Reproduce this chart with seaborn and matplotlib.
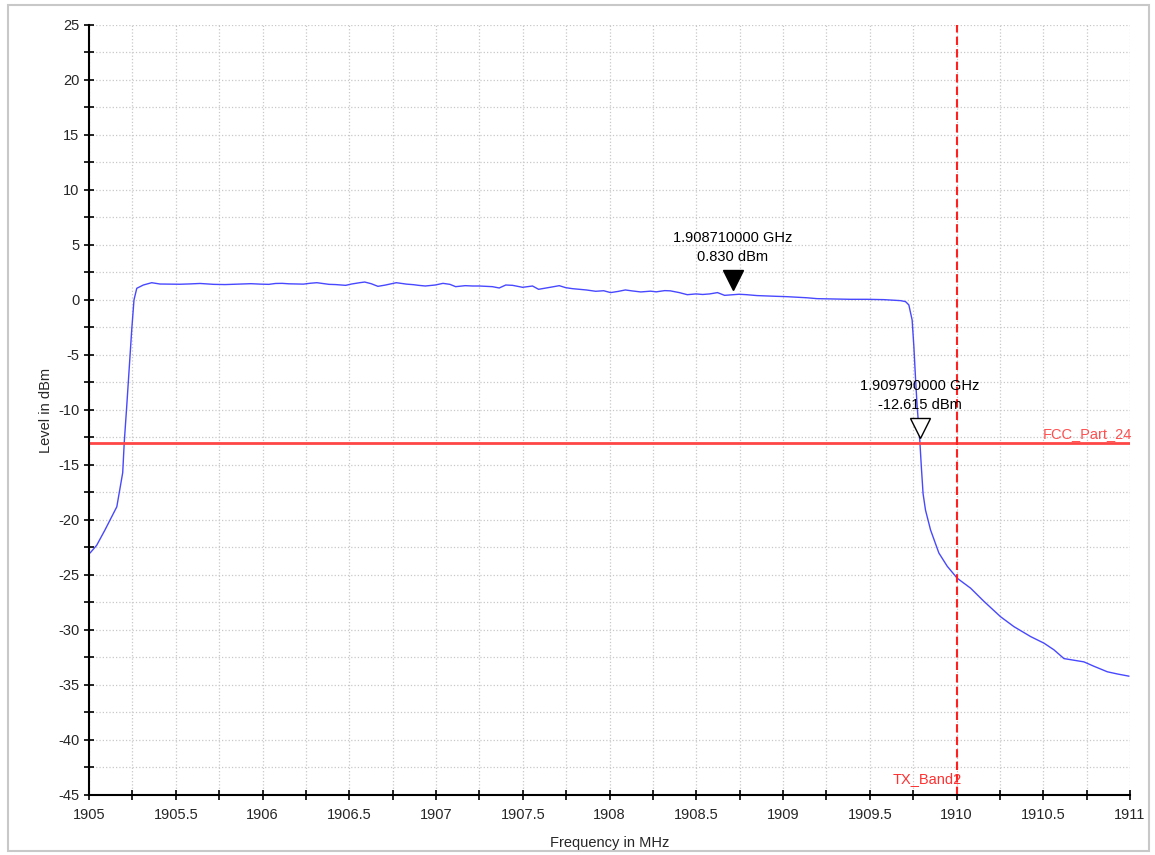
import numpy as np
import pandas as pd
import seaborn as sns
import matplotlib.pyplot as plt
from matplotlib.patches import Rectangle
from matplotlib.ticker import MultipleLocator
from matplotlib.transforms import offset_copy

# trace (MHz, dBm)
freq = [1905.006, 1905.044, 1905.092, 1905.131, 1905.160, 1905.179, 1905.194, 1905.203,
        1905.217, 1905.232, 1905.246, 1905.259, 1905.275, 1905.313, 1905.361, 1905.409,
        1905.524, 1905.583, 1905.640, 1905.718, 1905.784, 1905.883, 1905.933, 1905.988,
        1906.036, 1906.075, 1906.113, 1906.151, 1906.209, 1906.235, 1906.275, 1906.313,
        1906.383, 1906.420, 1906.479, 1906.513, 1906.560, 1906.589, 1906.626, 1906.665,
        1906.706, 1906.771, 1906.830, 1906.870, 1906.899, 1906.938, 1906.995, 1907.040,
        1907.080, 1907.113, 1907.168, 1907.211, 1907.249, 1907.325, 1907.364, 1907.402,
        1907.441, 1907.499, 1907.556, 1907.591, 1907.636, 1907.668, 1907.710, 1907.747,
        1907.785, 1907.837, 1907.866, 1907.895, 1907.920, 1907.966, 1908.006, 1908.050,
        1908.091, 1908.132, 1908.180, 1908.236, 1908.269, 1908.318, 1908.350, 1908.402,
        1908.448, 1908.498, 1908.537, 1908.577, 1908.622, 1908.663, 1908.710, 1908.747,
        1908.790, 1908.849, 1908.907, 1908.965, 1909.022, 1909.080, 1909.138, 1909.196,
        1909.253, 1909.311, 1909.388, 1909.485, 1909.581, 1909.677, 1909.706, 1909.725,
        1909.744, 1909.754, 1909.764, 1909.773, 1909.788, 1909.797, 1909.807, 1909.821,
        1909.850, 1909.898, 1909.946, 1910.004, 1910.081, 1910.158, 1910.254, 1910.331,
        1910.427, 1910.504, 1910.561, 1910.619, 1910.696, 1910.734, 1910.792, 1910.869,
        1910.927, 1910.994]
level = [-23.0, -22.3, -20.9, -19.7, -18.8, -17.1, -15.7, -12.9,
         -9.7, -6.1, -2.7, 0.0, 1.06, 1.36, 1.57, 1.45,
         1.43, 1.46, 1.50, 1.42, 1.40, 1.45, 1.48, 1.44,
         1.42, 1.50, 1.51, 1.47, 1.45, 1.44, 1.52, 1.57,
         1.42, 1.40, 1.33, 1.45, 1.57, 1.63, 1.48, 1.24,
         1.35, 1.57, 1.44, 1.39, 1.33, 1.27, 1.36, 1.51,
         1.42, 1.21, 1.30, 1.27, 1.27, 1.21, 1.09, 1.36,
         1.33, 1.15, 1.27, 0.97, 1.09, 1.18, 1.30, 1.12,
         1.03, 0.95, 0.91, 0.85, 0.79, 0.84, 0.67, 0.78,
         0.91, 0.82, 0.73, 0.80, 0.74, 0.85, 0.83, 0.67,
         0.48, 0.55, 0.50, 0.55, 0.67, 0.42, 0.48, 0.52,
         0.48, 0.40, 0.36, 0.33, 0.30, 0.25, 0.20, 0.12,
         0.10, 0.08, 0.06, 0.06, 0.03, -0.06, -0.15, -0.45,
         -1.82, -4.24, -7.27, -9.7, -12.73, -15.15, -17.6, -19.1,
         -20.9, -23.0, -24.2, -25.3, -26.2, -27.4, -28.8, -29.7,
         -30.6, -31.2, -31.8, -32.6, -32.8, -32.9, -33.3, -33.8,
         -34.0, -34.2]

limit_level = -13.0
limit_name = "FCC_Part_24"
band_edge = 1910.0
band_name = "TX_Band2"
marker_freq = [1908.71, 1909.79]
marker_level = [0.830, -12.615]
marker_text = ["1.908710000 GHz\n0.830 dBm", "1.909790000 GHz\n-12.615 dBm"]
marker_filled = [True, False]

sns.set_theme(style="white")
plt.rcParams['font.family'] = ['Liberation Sans', 'DejaVu Sans']
plt.rcParams['axes.unicode_minus'] = False

df = pd.DataFrame({"Frequency": freq, "Level": level})

fig = plt.figure(figsize=(11.55, 8.55), dpi=100)
fig.patches.append(Rectangle((0.007, 0.005), 0.988, 0.989, transform=fig.transFigure,
                             fill=False, edgecolor="#c8c8c8", linewidth=1.5))
ax = fig.add_axes([0.0771, 0.0702, 0.9013, 0.9006])

sns.lineplot(data=df, x="Frequency", y="Level", ax=ax, color="#4848ff", linewidth=1.0)

ax.axhline(limit_level, color="#ff4646", linewidth=2.0)
ax.text(1911.01, limit_level + 0.2, limit_name, color="#ff5050", fontsize=10.5,
        ha="right", va="bottom")
ax.axvline(band_edge, color="#ff2020", linewidth=1.5, linestyle=(0, (4, 2)))
ax.text(band_edge + 0.03, -44.2, band_name, color="#ff3030", fontsize=10.5,
        ha="right", va="bottom")

for f, l, t, filled in zip(marker_freq, marker_level, marker_text, marker_filled):
    tr = offset_copy(ax.transData, fig=fig, x=0, y=7.5, units="points")
    ax.plot([f], [l], marker="v", markersize=15, transform=tr,
            markerfacecolor="black" if filled else "white",
            markeredgecolor="black", markeredgewidth=1.0, linestyle="none")
    ax.text(f, l + 2.4, t, ha="center", va="bottom", fontsize=10.5,
            linespacing=1.45, color="black")

ax.set_xlim(1905, 1911)
ax.set_ylim(-45, 25)
ax.xaxis.set_major_locator(MultipleLocator(0.5))
ax.xaxis.set_minor_locator(MultipleLocator(0.25))
ax.yaxis.set_major_locator(MultipleLocator(5))
ax.yaxis.set_minor_locator(MultipleLocator(2.5))
ax.xaxis.set_major_formatter(plt.FuncFormatter(lambda v, p: f"{v:g}"))
ax.grid(True, which="both", color="#c8c8c8", linestyle=":", linewidth=0.9)
ax.tick_params(which="both", direction="inout", length=7, width=1.2, color="black",
               labelsize=10.5, bottom=True, left=True)
ax.tick_params(axis="x", which="major", pad=6)
for s in ["top", "right"]:
    ax.spines[s].set_visible(False)
for s in ["left", "bottom"]:
    ax.spines[s].set_color("black")
    ax.spines[s].set_linewidth(1.5)

ax.set_xlabel("Frequency in MHz", fontsize=10.5, labelpad=10)
ax.set_ylabel("Level in dBm", fontsize=10.5, labelpad=4)

fig.savefig("out.png", dpi=100)
